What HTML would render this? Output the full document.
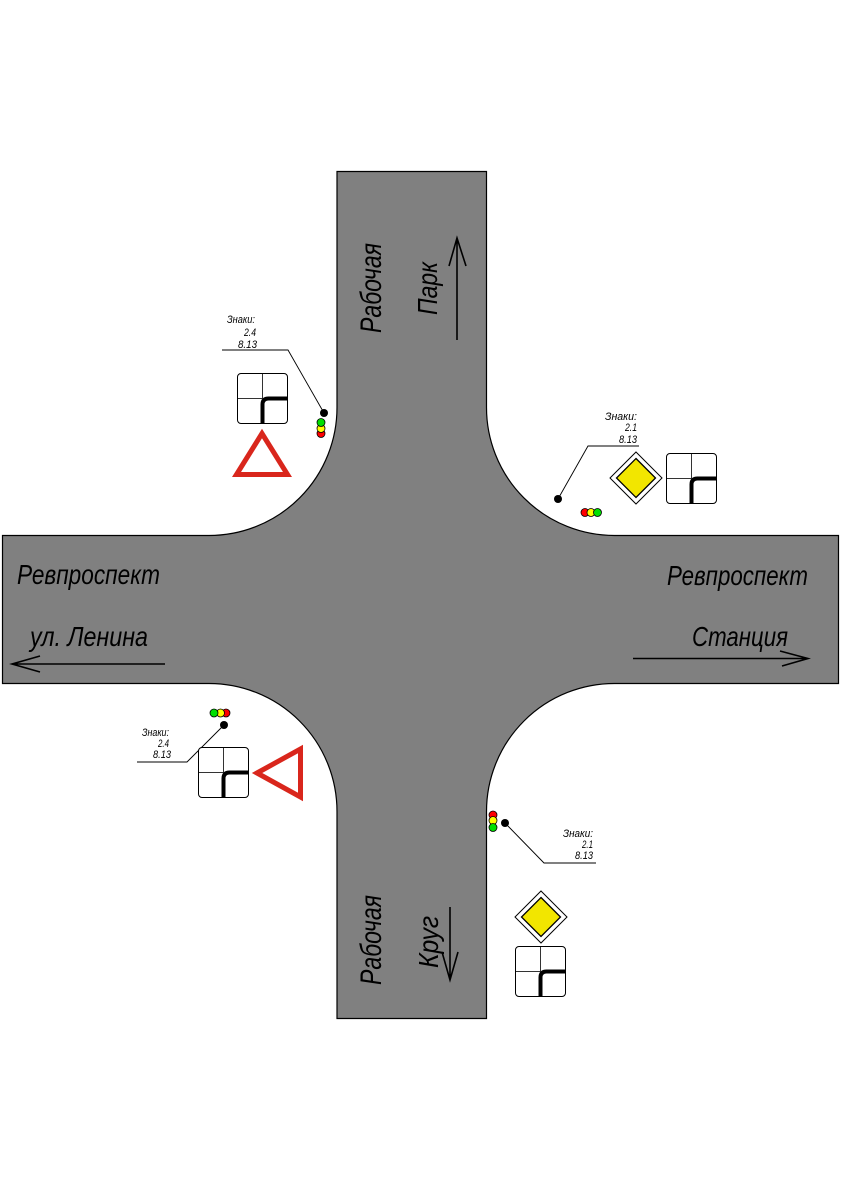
<!DOCTYPE html>
<html><head><meta charset="utf-8"><style>
html,body{margin:0;padding:0;background:#fff;}
svg{display:block;}
text{font-family:"Liberation Sans","DejaVu Sans",sans-serif;font-style:italic;fill:#000;}
</style></head><body>
<svg width="842" height="1191" viewBox="0 0 842 1191" xmlns="http://www.w3.org/2000/svg">
<rect width="842" height="1191" fill="#fff"/>
<!-- Road -->
<path d="M337,171.5 H486.5 V407 A128,128 0 0 0 614.5,535.5 H838.5 V683.5 H614.5 A128,128 0 0 0 486.5,811.5 V1018.5 H337 V811.5 A128,128 0 0 0 209,683.5 H2.5 V535.5 H209 A128,128 0 0 0 337,407 Z" fill="#808080" stroke="#000" stroke-width="1.2"/>

<!-- Road labels -->
<text font-size="30" textLength="90" lengthAdjust="spacingAndGlyphs" transform="translate(381,333) rotate(-90)">Рабочая</text>
<text font-size="28" textLength="53" lengthAdjust="spacingAndGlyphs" transform="translate(437,315) rotate(-90)">Парк</text>
<text font-size="30" textLength="90" lengthAdjust="spacingAndGlyphs" transform="translate(381,985) rotate(-90)">Рабочая</text>
<text font-size="28" textLength="52" lengthAdjust="spacingAndGlyphs" transform="translate(438,968) rotate(-90)">Круг</text>

<text x="17" y="584" font-size="28" textLength="143" lengthAdjust="spacingAndGlyphs">Ревпроспект</text>
<text x="30" y="646" font-size="28" textLength="118" lengthAdjust="spacingAndGlyphs">ул. Ленина</text>
<text x="667" y="585" font-size="28" textLength="141" lengthAdjust="spacingAndGlyphs">Ревпроспект</text>
<text x="692" y="646" font-size="28" textLength="96" lengthAdjust="spacingAndGlyphs">Станция</text>

<!-- Arrows -->
<g stroke="#000" stroke-width="1.6" fill="none">
<path d="M457,340 V238 M449,266 L457,238 L466,266"/>
<path d="M165,664 H12 M40,656 L12,664 L40,672"/>
<path d="M633,658.5 H808 M780,651 L808,658.5 L782,666"/>
<path d="M450,907 V980 M442,952 L450,980 L458,952"/>
</g>

<!-- Leader lines -->
<g stroke="#000" stroke-width="0.9" fill="none">
<path d="M222,350 H288 L324,413"/>
<path d="M639,446 H588 L558,499"/>
<path d="M137,762 H187 L224,725"/>
<path d="M596,863 H544 L505,823"/>
</g>

<!-- Small labels -->
<g font-size="11">
<text x="227" y="323" textLength="28" lengthAdjust="spacingAndGlyphs">Знаки:</text>
<text x="244" y="336" textLength="12" lengthAdjust="spacingAndGlyphs">2.4</text>
<text x="238" y="348" textLength="19" lengthAdjust="spacingAndGlyphs">8.13</text>

<text x="605" y="420" textLength="32" lengthAdjust="spacingAndGlyphs">Знаки:</text>
<text x="625" y="431" textLength="12" lengthAdjust="spacingAndGlyphs">2.1</text>
<text x="619" y="443" textLength="18" lengthAdjust="spacingAndGlyphs">8.13</text>

<text x="142" y="736" textLength="27" lengthAdjust="spacingAndGlyphs">Знаки:</text>
<text x="158" y="747" textLength="11" lengthAdjust="spacingAndGlyphs">2.4</text>
<text x="153" y="758" textLength="18" lengthAdjust="spacingAndGlyphs">8.13</text>

<text x="563" y="837" textLength="30" lengthAdjust="spacingAndGlyphs">Знаки:</text>
<text x="582" y="848" textLength="11" lengthAdjust="spacingAndGlyphs">2.1</text>
<text x="575" y="859" textLength="18" lengthAdjust="spacingAndGlyphs">8.13</text>
</g>

<!-- Dots -->
<g fill="#000">
<circle cx="324" cy="413" r="4"/>
<circle cx="558" cy="499" r="4"/>
<circle cx="224" cy="725" r="4"/>
<circle cx="505" cy="823" r="4"/>
</g>

<!-- Traffic lights -->
<g stroke="#000" stroke-width="0.8">
<circle cx="321" cy="433.5" r="4" fill="#ff0000"/>
<circle cx="321" cy="428.5" r="4" fill="#ffff00"/>
<circle cx="321" cy="422.5" r="4" fill="#00e000"/>

<circle cx="585" cy="512.5" r="4" fill="#ff0000"/>
<circle cx="591" cy="512.5" r="4" fill="#ffff00"/>
<circle cx="597.5" cy="512.5" r="4" fill="#00e000"/>

<circle cx="226" cy="713" r="4" fill="#ff0000"/>
<circle cx="220.5" cy="713" r="4" fill="#ffff00"/>
<circle cx="214" cy="713" r="4" fill="#00e000"/>

<circle cx="493" cy="815" r="4" fill="#ff0000"/>
<circle cx="493" cy="820.5" r="4" fill="#ffff00"/>
<circle cx="493" cy="827.5" r="4" fill="#00e000"/>
</g>

<!-- Plates 8.13 -->
<defs>
<g id="plate">
<rect x="0.5" y="0.5" width="50" height="50" rx="3.5" fill="#fff" stroke="#000" stroke-width="1"/>
<path d="M25.5,1 V25.5 M1,25.5 H25.5" stroke="#333" stroke-width="1" fill="none"/>
<path d="M25.5,50.5 V31.5 Q25.5,25.5 31.5,25.5 H50.5" stroke="#000" stroke-width="4" fill="none"/>
</g>
<g id="diamond">
<path d="M0,-26 L26,0 L0,26 L-26,0 Z" fill="#fff" stroke="#000" stroke-width="1"/>
<path d="M0,-19.5 L19.5,0 L0,19.5 L-19.5,0 Z" fill="#f2e600" stroke="#000" stroke-width="1.3"/>
</g>
</defs>
<use href="#plate" x="237" y="373"/>
<use href="#plate" x="666" y="453"/>
<use href="#plate" x="198" y="747"/>
<use href="#plate" x="515" y="946"/>

<!-- Priority diamonds 2.1 -->
<use href="#diamond" x="636" y="478"/>
<use href="#diamond" x="541" y="917"/>

<!-- Yield triangles 2.4 -->
<g fill="none" stroke="#d9261c" stroke-width="5" stroke-linejoin="miter">
<path d="M262,433.5 L236.5,474.5 L287.5,474.5 Z"/>
<path d="M257,773 L300.5,749 L300.5,797 Z"/>
</g>
</svg>
</body></html>
